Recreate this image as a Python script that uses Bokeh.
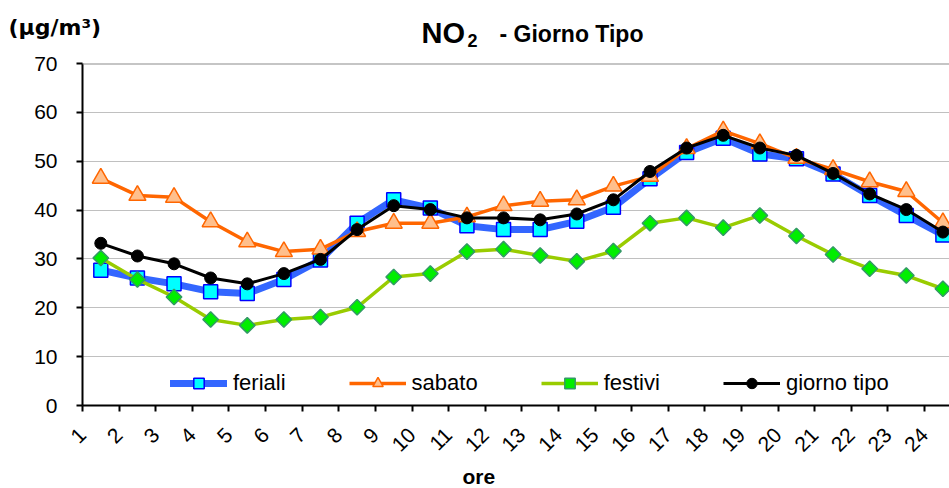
import math
from bokeh.plotting import figure
from bokeh.layouts import column
from bokeh.models import Range1d, FixedTicker, Legend, Span
from bokeh.core.properties import value
from bokeh.embed import file_html
from bokeh.resources import INLINE

hours = [str(h) for h in range(1, 25)]

feriali = [27.7, 26.1, 24.9, 23.3, 22.9, 25.8, 29.8, 37.3, 42.1, 40.4, 36.8, 36.0,
           36.0, 37.7, 40.6, 46.4, 51.8, 54.7, 51.5, 50.5, 47.4, 43.0, 38.9, 34.9]
sabato = [46.5, 43.0, 42.6, 37.6, 33.5, 31.5, 32.0, 35.6, 37.3, 37.3, 38.6, 40.9,
          41.8, 42.1, 44.9, 46.9, 52.6, 56.2, 53.6, 50.6, 48.3, 45.8, 43.8, 37.4]
festivi = [30.2, 25.8, 22.2, 17.6, 16.4, 17.6, 18.1, 20.1, 26.3, 27.0, 31.5, 32.0,
           30.7, 29.5, 31.6, 37.3, 38.4, 36.4, 38.9, 34.7, 30.9, 28.0, 26.6, 23.9]
giorno_tipo = [33.2, 30.6, 29.0, 26.1, 24.9, 27.0, 29.9, 36.0, 40.9, 40.1, 38.4, 38.4,
               38.0, 39.2, 42.1, 47.9, 52.7, 55.3, 52.7, 51.2, 47.5, 43.3, 40.1, 35.5]
y_ticks = [0, 10, 20, 30, 40, 50, 60, 70]
series_names = ["feriali", "sabato", "festivi", "giorno tipo"]

xs = list(range(1, len(hours) + 1))
x_ticks = [x - 0.5 for x in xs]

FONT = "Liberation Sans"
W = 949
LEFT = 82


def strip(height):
    s = figure(width=W, height=height, output_backend="svg", toolbar_location=None,
               x_axis_location=None, y_axis_location=None,
               min_border=0, min_border_right=0, min_border_top=0, min_border_bottom=0)
    if "frame_align" in s.properties():
        s.frame_align = False
        s.min_border_left = 0
        s.x_range = Range1d(0, W)
    else:
        s.min_border_left = LEFT
        s.x_range = Range1d(LEFT, W)
    s.y_range = Range1d(height, 0)
    s.outline_line_color = None
    s.grid.visible = False
    return s


# --- top strip: title and unit label
top = strip(51)
top.text(x=[421], y=[32.5], text=["NO"], text_font=value(FONT), text_font_style="bold",
         text_font_size="29px", text_baseline="alphabetic", text_color="black")
top.text(x=[467], y=[40], text=["2"], text_font=value(FONT), text_font_style="bold",
         text_font_size="18px", text_baseline="alphabetic", text_color="black")
top.text(x=[499], y=[33.5], text=["- Giorno Tipo"], text_font=value(FONT), text_font_style="bold",
         text_font_size="23px", text_baseline="alphabetic", text_color="black")
top.text(x=[8], y=[27], text=["(\u03bcg/m\u00b3)"], text_font=value("DejaVu Sans"),
         text_font_style="bold", text_font_size="22px", text_baseline="alphabetic",
         text_color="black")

# --- main chart
p = figure(width=W, height=412, output_backend="svg", toolbar_location=None,
           x_range=Range1d(0.5, 24.18), y_range=Range1d(0, 70),
           min_border_left=LEFT, min_border_right=0, min_border_top=12, min_border_bottom=58)
if "frame_align" in p.properties():
    p.frame_align = False
p.outline_line_color = None
p.xgrid.grid_line_color = None
p.ygrid.grid_line_color = "#c0c0c0"
p.ygrid.grid_line_width = 1
p.ygrid.ticker = FixedTicker(ticks=y_ticks)

p.yaxis.ticker = FixedTicker(ticks=y_ticks)
p.xaxis.ticker = FixedTicker(ticks=x_ticks)
p.xaxis.major_label_overrides = {t: h for t, h in zip(x_ticks, hours)}
p.xaxis.major_label_orientation = math.pi / 4

for ax in (p.xaxis[0], p.yaxis[0]):
    ax.axis_line_color = "black"
    ax.axis_line_width = 2
    ax.major_tick_line_color = "black"
    ax.major_tick_line_width = 2
    ax.major_tick_out = 6
    ax.major_tick_in = 0
    ax.minor_tick_line_color = None
    ax.major_label_text_font = FONT
    ax.major_label_text_font_size = "21px"
    ax.major_label_text_color = "black"
p.yaxis.major_label_standoff = 19
p.xaxis.major_label_standoff = 20

p.add_layout(Span(location=70, dimension="width", line_color="#8c8c8c", line_width=2))

styles = [
    dict(line=dict(line_color="#3366ff", line_width=7, line_cap="round", line_join="round"),
         mk=dict(marker="square", size=14, angle=0, fill_color="#00ffff", line_color="#0000ff", line_width=1.5)),
    dict(line=dict(line_color="#ff6600", line_width=3.5, line_join="round"),
         mk=dict(marker="triangle", size=17, angle=0, fill_color="#ffbf8c", line_color="#ff6600", line_width=1.5)),
    dict(line=dict(line_color="#99cc00", line_width=3.5, line_join="round"),
         mk=dict(marker="square", size=11, angle=math.pi / 4, fill_color="#00ee00", line_color="#339966", line_width=1.5)),
    dict(line=dict(line_color="black", line_width=3, line_join="round"),
         mk=dict(marker="circle", size=12, angle=0, fill_color="black", line_color="black", line_width=1)),
]

items = []
for name, ys, st in zip(series_names, [feriali, sabato, festivi, giorno_tipo], styles):
    rl = p.line(xs, ys, **st["line"])
    rm = p.scatter(xs, ys, **st["mk"])
    items.append((name, [rl, rm]))

legend = Legend(items=items, location=(88, 9), orientation="horizontal", padding=0, margin=0,
                spacing=63, label_standoff=6, glyph_width=57, glyph_height=26,
                label_height=26, label_text_font=FONT, label_text_font_size="22px",
                label_text_color="black", background_fill_alpha=0, border_line_color=None)
p.add_layout(legend, "center")

# --- bottom strip: x axis title
bottom = strip(25)
bottom.text(x=[462], y=[12.8], text=["ore"], text_font=value(FONT), text_font_style="bold",
            text_font_size="21px", text_baseline="alphabetic", text_color="black")

layout = column(top, p, bottom, spacing=0)
open("out.html", "w").write(file_html(layout, INLINE))
